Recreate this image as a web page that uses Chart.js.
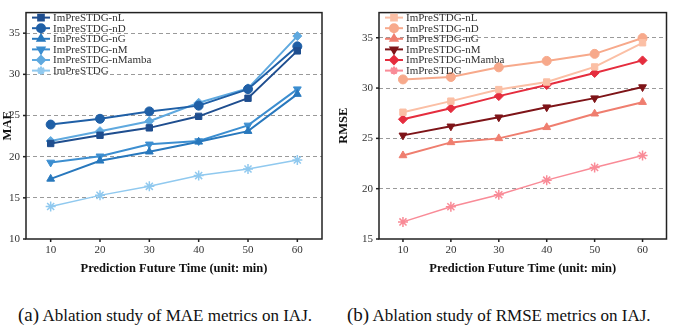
<!DOCTYPE html>
<html lang="en">
<head>
  <meta charset="UTF-8">
  <script src="https://cdn.jsdelivr.net/npm/chart.js"></script>
  <title>Ablation</title>
  <style>
    body { margin: 0; background: #fff; width: 673px; height: 329px; position: relative; overflow: hidden; }
    .box { position: absolute; top: 0; height: 280px; }
    #boxA { left: 0; width: 336px; }
    #boxB { left: 336px; width: 337px; }
    .cap { position: absolute; top: 304px; font-family: 'Liberation Serif', serif; font-size: 17px; color: #111; white-space: nowrap; }
  </style>
</head>
<body>
  <div class="box" id="boxA"><canvas id="maeChart"></canvas></div>
  <div class="box" id="boxB"><canvas id="rmseChart"></canvas></div>
  <div class="cap" style="left:18px"><span style="font-size:19px">(a)</span> Ablation study of MAE metrics on IAJ.</div>
  <div class="cap" style="left:347px"><span style="font-size:19px">(b)</span> Ablation study of RMSE metrics on IAJ.</div>

<script>
  const times = [10, 20, 30, 40, 50, 60];
  const seriesNames = ['ImPreSTDG-nL', 'ImPreSTDG-nD', 'ImPreSTDG-nG', 'ImPreSTDG-nM', 'ImPreSTDG-nMamba', 'ImPreSTDG'];
  const markers = ['rect', 'circle', 'triangle', 'triangle', 'rectRot', 'star'];

  // MAE values
  const maeNL = [21.6, 22.6, 23.5, 24.9, 27.1, 32.85];
  const maeND = [23.9, 24.6, 25.5, 26.2, 28.2, 33.4];
  const maeNG = [17.3, 19.5, 20.6, 21.8, 23.1, 27.6];
  const maeNM = [19.3, 20.05, 21.5, 21.9, 23.8, 28.2];
  const maeNMamba = [21.9, 23.1, 24.3, 26.55, 28.3, 34.65];
  const maeFull = [13.95, 15.3, 16.4, 17.7, 18.5, 19.6];

  // RMSE values
  const rmseNL = [27.6, 28.7, 29.85, 30.6, 32.1, 34.5];
  const rmseND = [30.86, 31.1, 32.06, 32.7, 33.4, 34.97];
  const rmseNG = [23.3, 24.6, 25.0, 26.1, 27.45, 28.6];
  const rmseNM = [25.3, 26.2, 27.1, 28.1, 29.0, 30.1];
  const rmseNMamba = [26.9, 28.0, 29.2, 30.3, 31.5, 32.75];
  const rmseFull = [16.7, 18.2, 19.4, 20.85, 22.1, 23.3];

  const blues = ['#1f4e8f', '#1f5fa6', '#2878bd', '#3c8ed0', '#5fa9df', '#90c9ef'];
  const reds = ['#fbbfa5', '#f7a98b', '#ef7e6f', '#7e1418', '#e52d3e', '#f98b97'];

  const serif = 'Liberation Serif';

  function makeSets(values, colors) {
    return values.map((vals, i) => ({
      label: seriesNames[i],
      data: vals,
      borderColor: colors[i],
      backgroundColor: colors[i],
      borderWidth: i === 5 ? 1.5 : 2,
      pointStyle: markers[i],
      rotation: i === 3 ? 180 : 0,
      pointRadius: i === 5 ? 5 : 4.5,
      pointBorderWidth: i === 5 ? 1.5 : 1,
      tension: 0
    }));
  }

  // frame + in-plot legend
  const framePlugin = {
    id: 'frame',
    afterDraw(chart, args, opts) {
      const ctx = chart.ctx, a = chart.chartArea;
      ctx.save();
      ctx.strokeStyle = '#222';
      ctx.lineWidth = 1.5;
      ctx.strokeRect(a.left, a.top, a.right - a.left, a.bottom - a.top);
      // tick marks on x axis
      chart.scales.x.ticks.forEach(t => {
        const x = chart.scales.x.getPixelForValue(t.value);
        ctx.beginPath(); ctx.moveTo(x, a.bottom); ctx.lineTo(x, a.bottom + 3); ctx.stroke();
      });
      chart.scales.y.ticks.forEach(t => {
        const y = chart.scales.y.getPixelForValue(t.value);
        ctx.beginPath(); ctx.moveTo(a.left, y); ctx.lineTo(a.left - 3, y); ctx.stroke();
      });
      // legend
      ctx.font = '11px ' + serif;
      ctx.textBaseline = 'middle';
      chart.data.datasets.forEach((ds, i) => {
        const y = a.top + 5 + i * 10.6;
        const x0 = a.left + opts.dx;
        ctx.strokeStyle = ds.borderColor;
        ctx.lineWidth = 2;
        ctx.beginPath(); ctx.moveTo(x0, y); ctx.lineTo(x0 + 18, y); ctx.stroke();
        ctx.fillStyle = ds.backgroundColor;
        Chart.helpers.drawPoint(ctx, {
          pointStyle: ds.pointStyle, rotation: ds.rotation, radius: 4, borderWidth: 1
        }, x0 + 9, y);
        ctx.fillStyle = '#333';
        ctx.fillText(ds.label, x0 + 21, y + 0.5);
      });
      ctx.restore();
    }
  };

  function buildChart(id, sets, yTitle, yMin, yWidth, padRight) {
    return new Chart(document.getElementById(id), {
      type: 'line',
      data: { datasets: sets },
      plugins: [framePlugin],
      options: {
        responsive: true,
        maintainAspectRatio: false,
        animation: false,
        layout: { padding: { top: 2, right: padRight, left: 0, bottom: 0 } },
        parsing: false,
        plugins: {
          legend: { display: false },
          tooltip: { enabled: false },
          frame: { dx: 6 }
        },
        scales: {
          x: {
            type: 'linear',
            min: 5, max: 65,
            afterBuildTicks: s => { s.ticks = times.map(v => ({ value: v })); },
            afterFit: s => { s.height = 41; },
            grid: { display: false, drawTicks: false },
            border: { display: false },
            ticks: { color: '#333', font: { family: serif, size: 11 }, padding: 5 },
            title: {
              display: true, text: 'Prediction Future Time (unit: min)', color: '#111',
              font: { family: serif, size: 12.5, weight: 'bold' }, padding: { top: 2 }
            }
          },
          y: {
            min: yMin, max: 37.5,
            afterBuildTicks: s => { s.ticks = s.ticks.filter(t => t.value % 5 === 0); },
            afterFit: s => { s.width = yWidth; },
            grid: {
              drawTicks: false,
              color: c => (c.tick && c.tick.value > yMin) ? '#9a9a9a' : 'transparent',
              lineWidth: 1
            },
            border: { display: false, dash: [4, 3] },
            ticks: { stepSize: 5, color: '#333', font: { family: serif, size: 11 }, padding: 6 },
            title: {
              display: true, text: yTitle, color: '#111',
              font: { family: serif, size: 12.5, weight: 'bold' }, padding: 0
            }
          }
        }
      }
    });
  }

  const maeSets = makeSets([maeNL, maeND, maeNG, maeNM, maeNMamba, maeFull], blues)
    .map(ds => ({ ...ds, data: ds.data.map((v, j) => ({ x: times[j], y: v })) }));
  const rmseSets = makeSets([rmseNL, rmseND, rmseNG, rmseNM, rmseNMamba, rmseFull], reds)
    .map(ds => ({ ...ds, data: ds.data.map((v, j) => ({ x: times[j], y: v })) }));

  buildChart('maeChart', maeSets, 'MAE', 10, 26, 14);
  buildChart('rmseChart', rmseSets, 'RMSE', 15, 43, 2);
</script>
</body>
</html>
